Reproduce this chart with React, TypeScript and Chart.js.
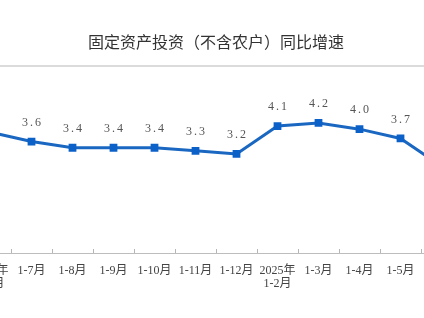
import React, { useEffect, useRef } from "react";
import { Chart, registerables } from "chart.js";

Chart.register(...registerables);

const categories: (string | string[])[] = [
  ["2024年", "1-6月"],
  "1-7月",
  "1-8月",
  "1-9月",
  "1-10月",
  "1-11月",
  "1-12月",
  ["2025年", "1-2月"],
  "1-3月",
  "1-4月",
  "1-5月",
  "1-6月",
];
const growth = [3.9, 3.6, 3.4, 3.4, 3.4, 3.3, 3.2, 4.1, 4.2, 4.0, 3.7, 2.8];
const titleText = "固定资产投资（不含农户）同比增速";

const decorPlugin = {
  id: "decor",
  afterDraw(chart: any) {
    const ctx = chart.ctx;
    const xs = chart.scales.x;
    ctx.save();
    // separator line under the title
    ctx.strokeStyle = "#cfcfcf";
    ctx.lineWidth = 1.5;
    ctx.beginPath();
    ctx.moveTo(0, 66);
    ctx.lineTo(chart.width, 66);
    ctx.stroke();
    // inward tick marks at category boundaries
    const n = categories.length;
    const step = (xs.right - xs.left) / n;
    ctx.strokeStyle = "#b5b5b5";
    ctx.lineWidth = 1;
    for (let i = 0; i <= n; i++) {
      const x = Math.round(xs.left + i * step) + 0.5;
      ctx.beginPath();
      ctx.moveTo(x, xs.top - 4);
      ctx.lineTo(x, xs.top);
      ctx.stroke();
    }
    // data labels
    const meta = chart.getDatasetMeta(0);
    ctx.fillStyle = "#555";
    ctx.font = "12px 'Liberation Serif', 'Noto Sans CJK SC', serif";
    ctx.textAlign = "center";
    ctx.textBaseline = "middle";
    try { (ctx as any).letterSpacing = "2px"; } catch (e) {}
    meta.data.forEach((p: any, i: number) => {
      ctx.fillText(growth[i].toFixed(1), p.x + 1, p.y - 19);
    });
    ctx.restore();
  },
};

export default function App() {
  const ref = useRef<HTMLCanvasElement | null>(null);
  useEffect(() => {
    if (!ref.current) return;
    const chart = new Chart(ref.current, {
      type: "line",
      data: {
        labels: categories,
        datasets: [
          {
            data: growth,
            borderColor: "#1a67c2",
            backgroundColor: "#0b61c8",
            borderWidth: 3,
            pointStyle: "rect",
            pointRadius: 5.5,
            pointBackgroundColor: "#0b61c8",
            pointBorderColor: "#0b61c8",
            pointBorderWidth: 0,
            tension: 0,
            fill: false,
          },
        ],
      },
      options: {
        animation: false,
        responsive: false,
        layout: { padding: { left: 10, right: 10, top: 0, bottom: 0 } },
        plugins: {
          legend: { display: false },
          tooltip: { enabled: false },
          title: {
            display: true,
            text: titleText,
            color: "#333",
            font: { family: "'Noto Sans CJK SC', sans-serif", size: 16, weight: "normal" as any },
            padding: { top: 32, bottom: 47 },
          },
        },
        scales: {
          x: {
            offset: true,
            grid: { display: false, offset: true },
            border: { display: true, color: "#bdbdbd", width: 1 },
            ticks: {
              color: "#444",
              font: { family: "'Liberation Serif', 'Noto Sans CJK SC', serif", size: 12, lineHeight: 1.1 },
              padding: 3,
              maxRotation: 0,
              autoSkip: false,
            },
            afterFit: (scale: any) => {
              scale.height = 65;
            },
          },
          y: {
            display: false,
            min: 0,
            max: 5,
          },
        },
      },
      plugins: [decorPlugin],
    });
    return () => chart.destroy();
  }, []);
  return (
    <div
      style={{
        position: "absolute",
        left: 0,
        top: 0,
        width: 424,
        height: 318,
        overflow: "hidden",
        background: "#fff",
      }}
    >
      <canvas
        ref={ref}
        width={512}
        height={318}
        style={{ position: "absolute", left: -40, top: 0 }}
      />
    </div>
  );
}
